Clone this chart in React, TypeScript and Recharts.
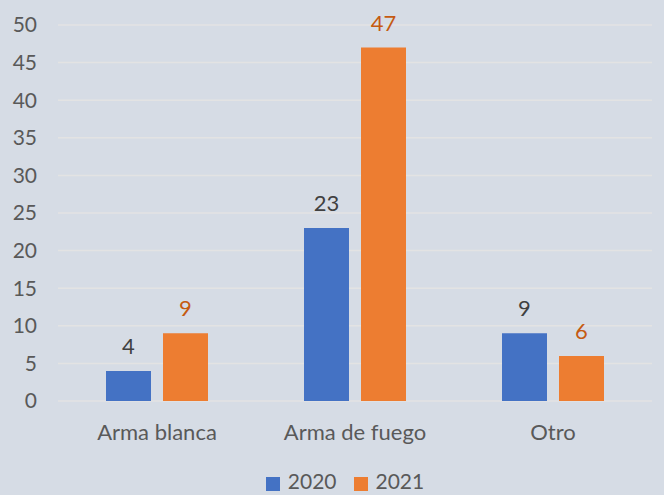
import { BarChart, Bar, XAxis, YAxis, CartesianGrid, Legend, LabelList } from 'recharts'

const categories = ['Arma blanca', 'Arma de fuego', 'Otro']
const values2020 = [4, 23, 9]
const values2021 = [9, 47, 6]
const yTicks = [0, 5, 10, 15, 20, 25, 30, 35, 40, 45, 50]

const data = categories.map((name, i) => ({
  name,
  y2020: values2020[i],
  y2021: values2021[i],
}))

const FONT = 'Lato, "Open Sans", sans-serif'

function LegendBox() {
  const items = [
    { label: '2020', color: '#4472c4' },
    { label: '2021', color: '#ed7d31' },
  ]
  return (
    <div
      style={{
        display: 'flex',
        justifyContent: 'center',
        paddingLeft: 38,
        height: 20,
        lineHeight: '20px',
        position: 'relative',
        top: -4,
        fontFamily: FONT,
        fontSize: 21,
        color: '#595959',
      }}
    >
      {items.map((it, i) => (
        <div key={it.label} style={{ display: 'flex', alignItems: 'center', marginLeft: i ? 17 : 0 }}>
          <span style={{ width: 14, height: 14, background: it.color, marginRight: 8, display: 'inline-block', marginTop: 5 }} />
          <span>{it.label}</span>
        </div>
      ))}
    </div>
  )
}

export default function App() {
  return (
    <div style={{ position: 'fixed', left: 0, top: 0, width: 664, height: 495, background: '#d6dce5' }}>
      <BarChart
        width={664}
        height={495}
        data={data}
        margin={{ top: 25, right: 12, left: 0, bottom: 0 }}
        barGap={12}
        barCategoryGap={48}
      >
        <CartesianGrid vertical={false} stroke="#e3e3e3" strokeWidth={1.5} />
        <XAxis
          dataKey="name"
          axisLine={false}
          tickLine={false}
          height={74}
          tickMargin={17}
          tick={{ fill: '#595959', fontSize: 22, fontFamily: FONT }}
        />
        <YAxis
          width={58}
          domain={[0, 50]}
          ticks={yTicks}
          axisLine={false}
          tickLine={false}
          tickMargin={15}
          tick={{ fill: '#595959', fontSize: 21, fontFamily: FONT }}
        />
        <Legend verticalAlign="bottom" content={() => <LegendBox />} />
        <Bar dataKey="y2020" name="2020" fill="#4472c4" isAnimationActive={false}>
          <LabelList dataKey="y2020" position="top" offset={17} fill="#404040" fontSize={22} fontFamily={FONT} />
        </Bar>
        <Bar dataKey="y2021" name="2021" fill="#ed7d31" isAnimationActive={false}>
          <LabelList dataKey="y2021" position="top" offset={17} fill="#c55a11" fontSize={22} fontFamily={FONT} />
        </Bar>
      </BarChart>
    </div>
  )
}
